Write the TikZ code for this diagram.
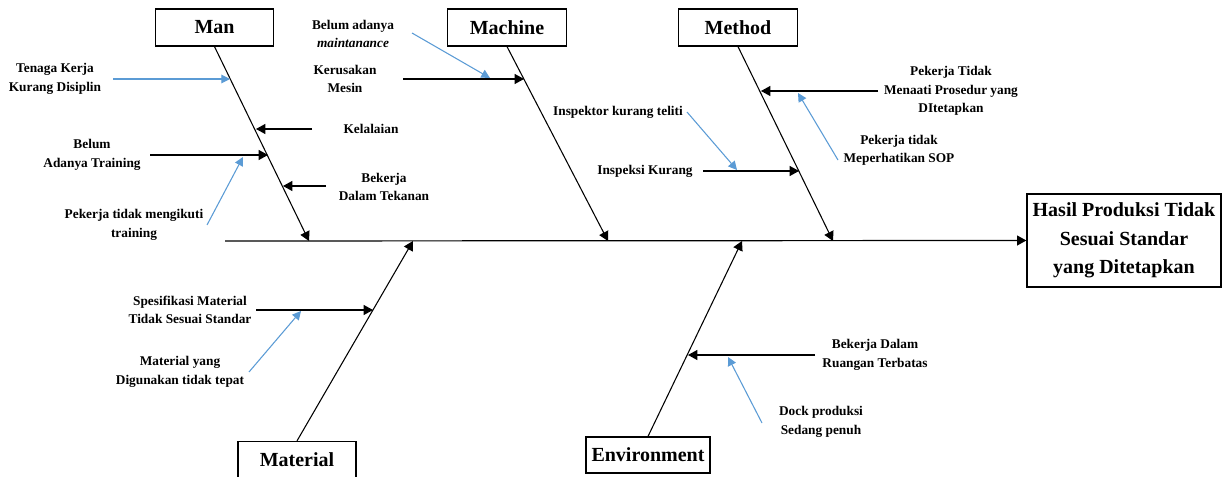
\documentclass[tikz,border=0pt]{standalone}
\usepackage{fontspec}
\setmainfont{Liberation Serif}
\usetikzlibrary{arrows.meta,positioning,calc}
\definecolor{fishblue}{RGB}{91,155,213}

\begin{document}
\begin{tikzpicture}[x=0.75pt, y=-0.75pt,
  catbox/.style={draw, line width=0.9pt, inner sep=0pt, minimum width=89pt, minimum height=27.75pt, font=\fontsize{15}{18}\selectfont\bfseries},
  effect/.style={draw, line width=1pt, inner sep=0pt, align=center, minimum width=145.5pt, minimum height=69.75pt, font=\fontsize{15}{21.5}\selectfont\bfseries},
  cause/.style={inner sep=0pt, align=center, font=\fontsize{10}{13.8}\selectfont\bfseries},
  bone/.style={line width=0.8pt, -{Triangle[length=7pt,width=7.5pt]}},
  sub/.style={line width=0.8pt, -{Triangle[length=7pt,width=7.5pt]}},
  why/.style={fishblue, line width=0.8pt, -{Triangle[length=6.5pt,width=6.5pt]}}]
\useasboundingbox (0,0) rectangle (1222,477);
\node[effect] (hasil) at (1124,240.5) {Hasil Produksi Tidak\\Sesuai Standar\\yang Ditetapkan};
\node[catbox] (man) at (214.5,27.5) {Man};
\node[catbox] (machine) at (507,27.5) {Machine};
\node[catbox] (method) at (738,27.5) {Method};
\node[catbox, minimum width=88.5pt] (material) at (297,460) {Material};
\node[catbox, minimum width=93pt, minimum height=27pt] (environment) at (648,455) {Environment};
\coordinate (tail) at (225,241);
\draw[bone, line width=0.9pt] (tail) -- (hasil.west);
\coordinate (manend) at (309,241);
\coordinate (machineend) at (608,241);
\coordinate (methodend) at (833,241);
\coordinate (materialend) at (413,241);
\coordinate (envend) at (742,241);
\draw[bone] (man.south) -- (manend);
\draw[bone] (machine.south) -- (machineend);
\draw[bone] (method.south) -- (methodend);
\draw[bone] (material.north) -- (materialend);
\draw[bone] (environment.north) -- (envend);

\node[cause] (tk) at (55,79) {Tenaga Kerja\\Kurang Disiplin};
\node[cause] (kel) at (371,129) {Kelalaian};
\node[cause] (bt) at (92,155) {Belum\\Adanya Training};
\node[cause] (ptm) at (134,225) {Pekerja tidak mengikuti\\training};
\node[cause] (bdt) at (384,187) {Bekerja\\Dalam Tekanan};
\coordinate (tka) at (113,79); \coordinate (tkb) at (230,79);
\coordinate (kela) at (312,129); \coordinate (kelb) at (256,129);
\coordinate (bta) at (150,155); \coordinate (btb) at (268,155);
\coordinate (ptma) at (207,225); \coordinate (ptmb) at (243,157);
\coordinate (bdta) at (326,186); \coordinate (bdtb) at (283,186);
\draw[why] (tka) -- (tkb);
\draw[sub] (kela) -- (kelb);
\draw[sub] (bta) -- (btb);
\draw[why] (ptma) -- (ptmb);
\draw[sub] (bdta) -- (bdtb);

\node[cause] (bam) at (353,34) {Belum adanya\\\textit{maintanance}};
\node[cause] (km) at (345,79) {Kerusakan\\Mesin};
\node[cause] (ikt) at (618,112) {Inspektor kurang teliti};
\node[cause] (ik) at (645,171) {Inspeksi Kurang};
\coordinate (kma) at (403,79); \coordinate (kmb) at (524,79);
\coordinate (bama) at (412,33); \coordinate (bamb) at (490,78);
\coordinate (ikta) at (687,112); \coordinate (iktb) at (737,170);
\coordinate (ika) at (703,171); \coordinate (ikb) at (799,171);
\draw[sub] (kma) -- (kmb);
\draw[why] (bama) -- (bamb);
\draw[why] (ikta) -- (iktb);
\draw[sub] (ika) -- (ikb);

\node[cause] (ptp) at (951,91) {Pekerja Tidak\\Menaati Prosedur yang\\DItetapkan};
\node[cause] (sop) at (899,150) {Pekerja tidak\\Meperhatikan SOP};
\coordinate (ptpa) at (878,91); \coordinate (ptpb) at (761,91);
\coordinate (sopa) at (838,160); \coordinate (sopb) at (798,93);
\draw[sub] (ptpa) -- (ptpb);
\draw[why] (sopa) -- (sopb);

\node[cause] (smt) at (190,310) {Spesifikasi Material\\Tidak Sesuai Standar};
\node[cause] (myd) at (180,372) {Material yang\\Digunakan tidak tepat};
\coordinate (smta) at (256,310); \coordinate (smtb) at (373,310);
\coordinate (myda) at (249,372); \coordinate (mydb) at (301,311);
\draw[sub] (smta) -- (smtb);
\draw[why] (myda) -- (mydb);

\node[cause] (bdr) at (875,355) {Bekerja Dalam\\Ruangan Terbatas};
\node[cause] (dps) at (821,422) {Dock produksi\\Sedang penuh};
\coordinate (bdra) at (815,355); \coordinate (bdrb) at (688,355);
\coordinate (dpsa) at (762,423); \coordinate (dpsb) at (728,357);
\draw[sub] (bdra) -- (bdrb);
\draw[why] (dpsa) -- (dpsb);
\end{tikzpicture}
\end{document}
